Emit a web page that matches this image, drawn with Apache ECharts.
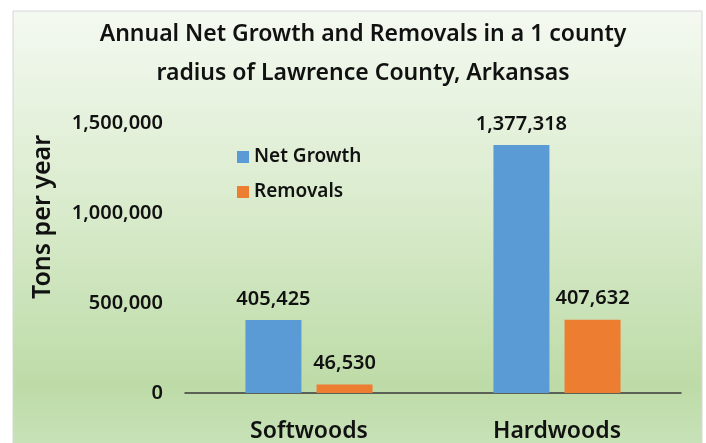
<!DOCTYPE html>
<html>
<head>
<meta charset="utf-8">
<script src="https://cdn.jsdelivr.net/npm/echarts@6/dist/echarts.min.js"></script>
<style>html,body{margin:0;padding:0;background:#fff;}#c{width:706px;height:443px;}</style>
</head>
<body>
<div id="c"></div>
<script>
var categories = ['Softwoods', 'Hardwoods'];
var netGrowth = [405425, 1377318];
var removals = [46530, 407632];
var yTicks = [0, 500000, 1000000, 1500000];

var FONT = "'Noto Sans', 'Open Sans', sans-serif";
function fmt(v){ return Number(v).toLocaleString('en-US'); }

var chart = echarts.init(document.getElementById('c'));
chart.setOption({
  animation: false,
  graphic: [{
    type: 'rect', z: -10, silent: true,
    shape: { x: 13, y: 11, width: 689, height: 440 },
    style: {
      fill: new echarts.graphic.LinearGradient(0, 0, 0, 1, [
        { offset: 0, color: '#f4f9f1' },
        { offset: 0.45, color: '#d9ebcc' },
        { offset: 0.85, color: '#bddba7' },
        { offset: 1, color: '#c9e3ba' }
      ]),
      stroke: '#d6d6d6', lineWidth: 1
    }
  }, {
    type: 'text', silent: true, x: 43, y: 217, rotation: Math.PI / 2,
    style: {
      text: 'Tons per year', align: 'center', verticalAlign: 'middle',
      font: '600 25px ' + FONT, fill: '#111'
    }
  }],
  title: {
    text: 'Annual Net Growth and Removals in a 1 county\nradius of Lawrence County, Arkansas',
    left: 358, top: 10, textAlign: 'center',
    textStyle: { fontFamily: FONT, fontSize: 23, fontWeight: 600, color: '#111', lineHeight: 39 }
  },
  legend: {
    orient: 'vertical', left: 232, top: 142, itemGap: 15,
    itemWidth: 12, itemHeight: 12, icon: 'rect',
    textStyle: { fontFamily: FONT, fontSize: 19, fontWeight: 600, color: '#111', lineHeight: 20 },
    data: ['Net Growth', 'Removals']
  },
  grid: { left: 185, right: 25, top: 123, bottom: 47.5, containLabel: false },
  xAxis: {
    type: 'category', data: categories,
    axisLine: { lineStyle: { color: '#3a3a3a', width: 1.5 } },
    axisTick: { show: false },
    axisLabel: { fontFamily: FONT, fontSize: 23, fontWeight: 600, color: '#111', margin: 27 }
  },
  yAxis: {
    type: 'value', min: yTicks[0], max: yTicks[yTicks.length - 1], interval: 500000,
    splitLine: { show: false },
    axisLine: { show: false }, axisTick: { show: false },
    axisLabel: { fontFamily: FONT, fontSize: 20, fontWeight: 600, color: '#111', margin: 22, formatter: fmt }
  },
  series: [{
    name: 'Net Growth', type: 'bar', data: netGrowth,
    barWidth: 56, barGap: '27%',
    itemStyle: { color: '#5b9bd5' },
    label: { show: true, position: 'top', distance: 11, fontFamily: FONT, fontSize: 20, fontWeight: 600, color: '#111', formatter: function(p){ return fmt(p.value); } }
  }, {
    name: 'Removals', type: 'bar', data: removals,
    barWidth: 56,
    itemStyle: { color: '#ed7d31' },
    label: { show: true, position: 'top', distance: 11, fontFamily: FONT, fontSize: 20, fontWeight: 600, color: '#111', formatter: function(p){ return fmt(p.value); } }
  }]
});
</script>
</body>
</html>
